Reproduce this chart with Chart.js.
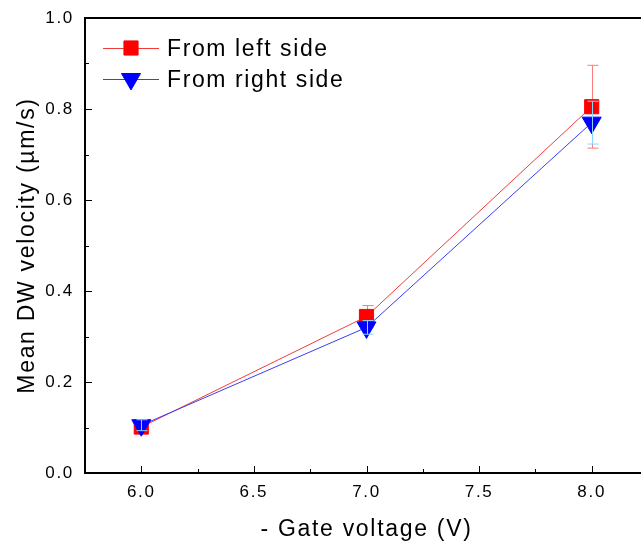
<!DOCTYPE html>
<html>
<head>
<meta charset="utf-8">
<script src="https://cdn.jsdelivr.net/npm/chart.js@4/dist/chart.umd.min.js"></script>
<style>
  html, body { margin: 0; padding: 0; background: #fff; overflow: hidden; }
</style>
</head>
<body>
<canvas id="myChart" width="660" height="547"></canvas>
<script>
// gate voltage (V) and mean DW velocity (um/s) with error bars
const gateVoltage = [6.0, 7.0, 8.0];
const leftSide = [0.101, 0.344, 0.805];
const leftSideErr = [0.008, 0.024, 0.091];
const rightSide = [0.105, 0.320, 0.770];
const rightSideErr = [0.012, 0.015, 0.047];
const seriesNames = ["From left side", "From right side"];

const FONT = "'Liberation Sans', Arial, sans-serif";
Chart.defaults.font.family = FONT;
Chart.defaults.color = '#000';

function toPoints(ys) {
    return gateVoltage.map((x, i) => ({ x: x, y: ys[i] }));
}

function drawErrors(chart, index) {
    const ds = chart.data.datasets[index];
    const meta = chart.getDatasetMeta(index);
    const yScale = chart.scales.y;
    const ctx = chart.ctx;
    ctx.save();
    ctx.strokeStyle = ds.errorColor;
    ctx.lineWidth = 1;
    meta.data.forEach((p, j) => {
        const v = ds.data[j].y, e = ds.errors[j];
        const top = yScale.getPixelForValue(v + e);
        const bot = yScale.getPixelForValue(v - e);
        const x = Math.round(p.x) + 0.5;
        ctx.beginPath();
        ctx.moveTo(x, top); ctx.lineTo(x, bot);
        ctx.moveTo(x - 5, top); ctx.lineTo(x + 6, top);
        ctx.moveTo(x - 5, bot); ctx.lineTo(x + 6, bot);
        ctx.stroke();
    });
    ctx.restore();
}

// red bars go under their squares, blue bars over the triangles
const errorBars = {
    id: 'errorBars',
    beforeDatasetDraw(chart, args) {
        if (!chart.data.datasets[args.index].errorOnTop) drawErrors(chart, args.index);
    },
    afterDatasetDraw(chart, args) {
        if (chart.data.datasets[args.index].errorOnTop) drawErrors(chart, args.index);
    }
};

// box frame and inward tick marks
const frame = {
    id: 'frame',
    beforeDraw(chart) {
        chart.ctx.letterSpacing = '1.7px';
    },
    beforeDatasetsDraw(chart) {
        const ctx = chart.ctx;
        const a = chart.chartArea;
        ctx.save();
        ctx.strokeStyle = '#000';
        ctx.lineWidth = 2;
        ctx.strokeRect(a.left, a.top, a.right - a.left, a.bottom - a.top);
        ctx.lineWidth = 1;
        ctx.beginPath();
        chart.scales.x.ticks.forEach(t => {
            const x = Math.round(chart.scales.x.getPixelForValue(t.value)) + 0.5;
            const len = t.label ? 7 : 4;
            ctx.moveTo(x, a.bottom); ctx.lineTo(x, a.bottom - len);
        });
        chart.scales.y.ticks.forEach(t => {
            const y = Math.round(chart.scales.y.getPixelForValue(t.value)) + 0.5;
            const len = t.label ? 7 : 4;
            ctx.moveTo(a.left, y); ctx.lineTo(a.left + len, y);
        });
        ctx.stroke();
        ctx.restore();
    }
};

// legend: line - marker - line, then the name
const legendBox = {
    id: 'legendBox',
    afterDatasetsDraw(chart) {
        const ctx = chart.ctx;
        chart.data.datasets.forEach((ds, i) => {
            const y = 48 + i * 31;
            ctx.save();
            ctx.strokeStyle = ds.borderColor;
            ctx.lineWidth = 1;
            ctx.beginPath();
            ctx.moveTo(103, y + 0.5); ctx.lineTo(159, y + 0.5);
            ctx.stroke();
            ctx.fillStyle = ds.pointBackgroundColor;
            ctx.strokeStyle = ds.pointBorderColor;
            Chart.helpers.drawPoint(ctx, {
                pointStyle: ds.pointStyle,
                rotation: ds.pointRotation || 0,
                radius: ds.pointRadius,
                borderWidth: 1
            }, 131, y);
            ctx.fillStyle = '#000';
            ctx.font = '23px ' + FONT;
            ctx.letterSpacing = '1.6px';
            ctx.textBaseline = 'alphabetic';
            ctx.textAlign = 'left';
            ctx.fillText(ds.label, 167, y + 8);
            ctx.restore();
        });
    }
};

new Chart("myChart", {
    type: "scatter",
    data: {
        datasets: [{
            label: seriesNames[0],
            data: toPoints(leftSide),
            errors: leftSideErr,
            errorColor: '#ff7a7a',
            errorOnTop: false,
            showLine: true,
            borderColor: '#f03c3c',
            borderWidth: 1,
            pointStyle: 'rect',
            pointRadius: 10,
            pointBackgroundColor: '#ff0000',
            pointBorderColor: '#ff0000',
            pointBorderWidth: 1,
            order: 2
        }, {
            label: seriesNames[1],
            data: toPoints(rightSide),
            errors: rightSideErr,
            errorColor: '#86d8ff',
            errorOnTop: true,
            showLine: true,
            borderColor: '#3c3cf0',
            borderWidth: 1,
            pointStyle: 'triangle',
            pointRotation: 180,
            pointRadius: 11,
            pointBackgroundColor: '#0000ff',
            pointBorderColor: '#0000ff',
            pointBorderWidth: 1,
            order: 1
        }]
    },
    options: {
        responsive: false,
        animation: false,
        layout: { padding: { top: 18, right: 9, left: 0, bottom: 0 } },
        plugins: {
            legend: { display: false },
            tooltip: { enabled: false }
        },
        scales: {
            x: {
                type: 'linear',
                min: 5.75,
                max: 8.25,
                grid: { display: false },
                border: { display: false },
                ticks: {
                    stepSize: 0.25,
                    autoSkip: false,
                    maxRotation: 0,
                    padding: 1,
                    font: { size: 17 },
                    callback: v => Math.round(v * 4) % 2 === 0 ? v.toFixed(1) : ''
                },
                title: {
                    display: true,
                    text: '- Gate voltage (V)',
                    font: { size: 23 },
                    padding: { top: 0, bottom: 4 }
                },
                afterFit: s => { s.height = 74; }
            },
            y: {
                min: 0,
                max: 1.0,
                grid: { display: false },
                border: { display: false },
                ticks: {
                    stepSize: 0.1,
                    autoSkip: false,
                    padding: 3,
                    font: { size: 17 },
                    callback: v => Math.round(v * 10) % 2 === 0 ? v.toFixed(1) : ''
                },
                title: {
                    display: true,
                    text: 'Mean DW velocity (µm/s)',
                    font: { size: 23 },
                    padding: { top: 14, bottom: 0 }
                },
                afterFit: s => { s.width = 85; }
            }
        }
    },
    plugins: [frame, errorBars, legendBox]
});
</script>
</body>
</html>
